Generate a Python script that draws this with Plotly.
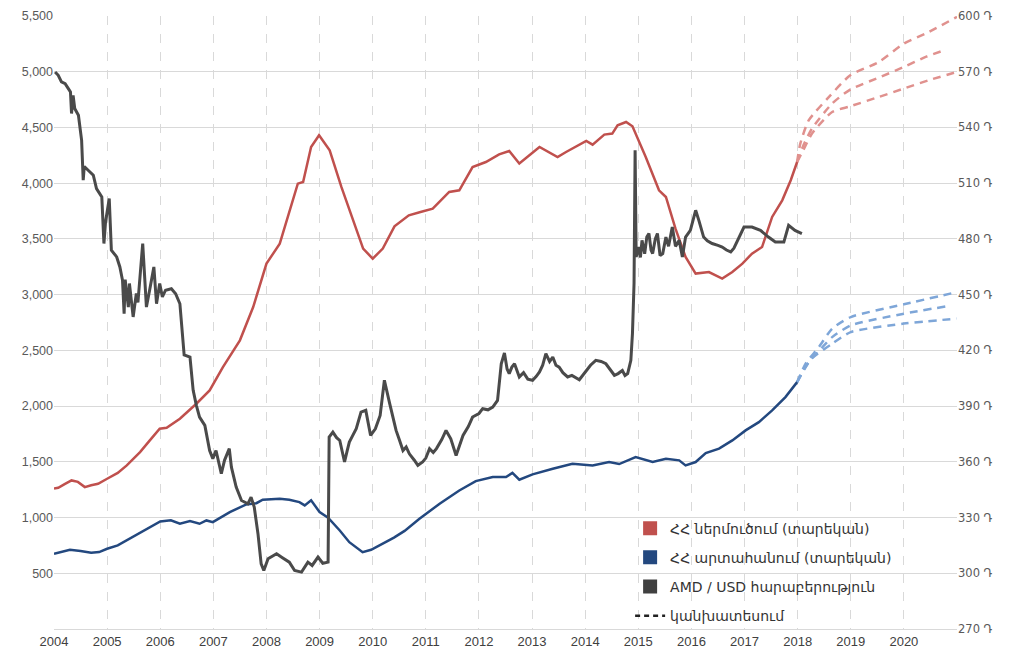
import plotly.graph_objects as go

# ---------------- data ----------------
imp_x = [2004.0, 2004.08, 2004.2, 2004.33, 2004.45, 2004.58, 2004.7, 2004.83, 2005.0, 2005.2, 2005.37, 2005.62,
         2005.8, 2005.99, 2006.12, 2006.37, 2006.68, 2006.93, 2007.18, 2007.5, 2007.75, 2008.0, 2008.25, 2008.5,
         2008.59, 2008.69, 2008.84, 2008.99, 2009.19, 2009.41, 2009.6, 2009.82, 2010.0, 2010.19, 2010.41, 2010.68,
         2010.9, 2011.13, 2011.44, 2011.63, 2011.88, 2012.13, 2012.38, 2012.57, 2012.76, 2013.14, 2013.48, 2013.64,
         2014.02, 2014.14, 2014.36, 2014.51, 2014.61, 2014.77, 2014.89, 2015.14, 2015.39, 2015.52, 2015.7, 2015.89,
         2016.08, 2016.33, 2016.58, 2016.77, 2016.96, 2017.14, 2017.33, 2017.52, 2017.71, 2017.87, 2017.99]
imp_y = [1260, 1267, 1300, 1333, 1320, 1273, 1290, 1303, 1348, 1400, 1468, 1587,
         1690, 1797, 1806, 1887, 2021, 2141, 2350, 2590, 2889, 3278, 3458, 3846,
         3996, 4011, 4325, 4430, 4295, 3966, 3712, 3413, 3323, 3413, 3613, 3712,
         3742, 3772, 3921, 3936, 4145, 4190, 4259, 4289, 4176, 4325, 4235, 4280,
         4379, 4346, 4436, 4445, 4520, 4549, 4511, 4235, 3936, 3876, 3592, 3338,
         3189, 3203, 3144, 3203, 3278, 3368, 3427, 3697, 3846, 4026, 4190]

exp_x = [2004.0, 2004.15, 2004.3, 2004.5, 2004.7, 2004.85, 2005.0, 2005.2, 2005.5, 2005.75, 2006.0, 2006.2,
         2006.37, 2006.56, 2006.74, 2006.87, 2006.99, 2007.31, 2007.62, 2007.81, 2007.93, 2008.25, 2008.43,
         2008.62, 2008.72, 2008.84, 2009.0, 2009.16, 2009.38, 2009.56, 2009.81, 2009.97, 2010.13, 2010.4,
         2010.6, 2010.88, 2011.26, 2011.63, 2011.94, 2012.26, 2012.51, 2012.63, 2012.76, 2013.01, 2013.39,
         2013.76, 2014.14, 2014.45, 2014.64, 2014.95, 2015.27, 2015.52, 2015.77, 2015.89, 2016.08, 2016.27,
         2016.52, 2016.77, 2017.02, 2017.27, 2017.52, 2017.77, 2017.99]
exp_y = [675, 690, 710, 700, 685, 690, 720, 750, 830, 900, 965, 975,
         944, 968, 944, 974, 959, 1049, 1118, 1129, 1160, 1169, 1160,
         1138, 1109, 1154, 1049, 998, 884, 779, 689, 711, 750, 820,
         880, 989, 1124, 1243, 1327, 1363, 1363, 1400, 1339, 1387, 1438,
         1483, 1468, 1498, 1480, 1542, 1498, 1528, 1513, 1468, 1498, 1578,
         1618, 1692, 1782, 1856, 1961, 2081, 2215]

fx_x = [2004.02, 2004.08, 2004.14, 2004.21, 2004.27, 2004.31, 2004.33, 2004.36, 2004.39, 2004.46, 2004.52,
        2004.55, 2004.57, 2004.65, 2004.74, 2004.8, 2004.9, 2004.94, 2004.97, 2005.04, 2005.08, 2005.18,
        2005.24, 2005.29, 2005.32, 2005.34, 2005.4, 2005.42, 2005.49, 2005.55, 2005.58, 2005.67, 2005.74,
        2005.8, 2005.88, 2005.93, 2005.99, 2006.04, 2006.1, 2006.21, 2006.29, 2006.37, 2006.43, 2006.45,
        2006.56, 2006.62, 2006.68, 2006.74, 2006.84, 2006.93, 2006.99, 2007.05, 2007.15, 2007.21, 2007.3,
        2007.34, 2007.43, 2007.53, 2007.65, 2007.71, 2007.77, 2007.84, 2007.9, 2007.95, 2008.03, 2008.19,
        2008.3, 2008.43, 2008.53, 2008.66, 2008.78, 2008.86, 2008.97, 2009.06, 2009.16, 2009.18, 2009.25,
        2009.32, 2009.38, 2009.47, 2009.52, 2009.56, 2009.62, 2009.69, 2009.78, 2009.87, 2009.96, 2010.05,
        2010.14, 2010.22, 2010.32, 2010.44, 2010.5, 2010.57, 2010.63, 2010.69, 2010.78, 2010.85, 2010.94,
        2011.0, 2011.07, 2011.14, 2011.2, 2011.3, 2011.38, 2011.47, 2011.57, 2011.63, 2011.7, 2011.8, 2011.88,
        2012.0, 2012.07, 2012.17, 2012.26, 2012.35, 2012.42, 2012.48, 2012.53, 2012.57, 2012.62, 2012.67,
        2012.76, 2012.84, 2012.92, 2013.01, 2013.08, 2013.14, 2013.2, 2013.26, 2013.33, 2013.39, 2013.45,
        2013.51, 2013.58, 2013.67, 2013.75, 2013.89, 2014.01, 2014.1, 2014.2, 2014.3, 2014.39, 2014.47,
        2014.55, 2014.62, 2014.7, 2014.75, 2014.8, 2014.86, 2014.89, 2014.92, 2014.94, 2014.96, 2015.01,
        2015.04, 2015.07, 2015.12, 2015.16, 2015.2, 2015.24, 2015.27, 2015.32, 2015.36, 2015.41, 2015.46,
        2015.52, 2015.57, 2015.64, 2015.7, 2015.77, 2015.83, 2015.89, 2015.98, 2016.08, 2016.14, 2016.23,
        2016.3, 2016.39, 2016.5, 2016.58, 2016.66, 2016.74, 2016.8, 2016.87, 2016.93, 2016.99, 2017.14,
        2017.3, 2017.45, 2017.58, 2017.74, 2017.83, 2017.95, 2018.08]
fx_y = [569.9, 568.1, 564.5, 563.6, 560.9, 559.1, 547.5, 557.3, 550.2, 546.6, 533.1,
        511.6, 519.0, 517.0, 514.3, 507.1, 502.6, 477.5, 489.0, 501.7, 473.9, 470.3,
        464.9, 457.7, 439.7, 458.1, 443.3, 456.0, 438.0, 450.6, 445.8, 477.5, 443.3,
        452.4, 464.9, 445.1, 456.0, 448.8, 452.4, 453.2, 450.5, 445.1, 421.8, 417.6,
        416.4, 398.5, 390.4, 384.1, 379.6, 366.1, 361.7, 366.1, 353.6, 360.8, 367.1,
        357.1, 346.4, 339.2, 337.4, 341.0, 335.6, 321.3, 305.1, 301.5, 307.8, 310.5,
        308.4, 306.0, 301.5, 300.6, 306.0, 304.2, 308.7, 305.4, 306.0, 373.3, 376.0,
        373.0, 371.5, 359.9, 366.0, 370.6, 374.0, 377.8, 386.8, 387.7, 374.2, 377.8,
        385.0, 403.9, 391.3, 376.9, 372.0, 366.1, 368.0, 364.3, 361.0, 358.1, 359.9,
        362.0, 367.1, 365.0, 367.1, 372.0, 376.9, 372.4, 363.4, 368.0, 374.2, 379.0, 384.1,
        386.0, 388.6, 388.0, 389.5, 393.1, 412.8, 418.6, 410.0, 407.5, 411.0, 412.8,
        405.7, 408.0, 404.5, 403.9, 406.0, 408.4, 412.0, 418.2, 414.0, 416.4, 412.0,
        411.0, 408.0, 405.7, 406.5, 404.2, 408.4, 412.0, 414.6, 414.0, 412.8, 410.0,
        406.6, 407.5, 409.2, 406.5, 407.5, 414.6, 429.0, 456.0, 527.7, 470.3, 475.6,
        470.0, 479.2, 472.0, 481.0, 482.9, 474.0, 472.1, 480.0, 482.9, 471.0, 472.1,
        481.0, 476.0, 486.4, 476.0, 479.2, 470.3, 481.0, 484.6, 495.4, 490.0, 481.0,
        479.0, 477.5, 476.5, 475.6, 474.0, 473.0, 475.0, 479.2, 483.0, 486.4, 486.4,
        484.6, 481.0, 478.3, 478.3, 487.3, 484.6, 482.9]

# forecasts (millions USD, left axis)
imp_fc_hi_x = [2017.99, 2018.05, 2018.21, 2018.59, 2018.99, 2019.53, 2020.0, 2020.47, 2021.0]
imp_fc_hi_y = [4190, 4355, 4565, 4774, 4968, 5088, 5253, 5357, 5492]
imp_fc_mid_x = [2017.99, 2018.1, 2018.27, 2018.65, 2018.99, 2019.53, 2020.0, 2020.41, 2020.8]
imp_fc_mid_y = [4190, 4330, 4490, 4715, 4840, 4948, 5043, 5133, 5199]
imp_fc_lo_x = [2017.99, 2018.11, 2018.27, 2018.65, 2018.99, 2019.53, 2020.0, 2020.47, 2021.0]
imp_fc_lo_y = [4190, 4300, 4445, 4639, 4690, 4774, 4849, 4924, 4998]

exp_fc_hi_x = [2017.99, 2018.15, 2018.4, 2018.65, 2019.0, 2020.0, 2021.0]
exp_fc_hi_y = [2215, 2381, 2530, 2695, 2799, 2913, 3023]
exp_fc_mid_x = [2017.99, 2018.2, 2018.45, 2018.65, 2019.0, 2020.0, 2020.8]
exp_fc_mid_y = [2215, 2390, 2520, 2619, 2724, 2829, 2895]
exp_fc_lo_x = [2017.99, 2018.25, 2018.65, 2019.0, 2020.0, 2021.0]
exp_fc_lo_y = [2215, 2420, 2560, 2664, 2740, 2785]

year_ticks = list(range(2004, 2021))
left_ticks = list(range(500, 5501, 500))
right_ticks = list(range(270, 601, 30))

legend_names = ["ՀՀ ներմուծում (տարեկան)", "ՀՀ արտահանում (տարեկան)",
                "AMD / USD հարաբերություն", "կանխատեսում"]

# ---------------- styles ----------------
RED = "#C0504D"
BLUE = "#23487F"
GRAY = "#4A4A4A"
RED_FC = "#E0918E"
BLUE_FC = "#7EA6D8"
GRID = "#D9D9D9"

fig = go.Figure()

for xs, ys in [(imp_fc_hi_x, imp_fc_hi_y), (imp_fc_mid_x, imp_fc_mid_y), (imp_fc_lo_x, imp_fc_lo_y)]:
    fig.add_trace(go.Scatter(x=xs, y=ys, mode="lines", showlegend=False, hoverinfo="skip",
                             line=dict(color=RED_FC, width=2.5, dash="8px,6px", shape="spline", smoothing=0.6)))
for xs, ys in [(exp_fc_hi_x, exp_fc_hi_y), (exp_fc_mid_x, exp_fc_mid_y), (exp_fc_lo_x, exp_fc_lo_y)]:
    fig.add_trace(go.Scatter(x=xs, y=ys, mode="lines", showlegend=False, hoverinfo="skip",
                             line=dict(color=BLUE_FC, width=2.5, dash="8px,6px", shape="spline", smoothing=0.6)))

fig.add_trace(go.Scatter(x=imp_x, y=imp_y, mode="lines", showlegend=False,
                         line=dict(color=RED, width=2.5)))
fig.add_trace(go.Scatter(x=exp_x, y=exp_y, mode="lines", showlegend=False,
                         line=dict(color=BLUE, width=2.5)))
fig.add_trace(go.Scatter(x=fx_x, y=fx_y, mode="lines", showlegend=False, yaxis="y2",
                         line=dict(color=GRAY, width=3)))

# legend-only entries
for i, (name, col) in enumerate(zip(legend_names[:3], [RED, BLUE, "#404040"])):
    fig.add_trace(go.Scatter(x=[None], y=[None], mode="markers", name=name, legendgroup=f"g{i}",
                             marker=dict(symbol="square", size=14, color=col)))
fig.add_trace(go.Scatter(x=[None], y=[None], mode="lines", name=legend_names[3], legendgroup="g3",
                         line=dict(color="#222222", width=2.5, dash="5px,4px")))

# The page body has an 8px default margin, so the figure is sized to fit the window.
fig.update_layout(
    width=1006, height=648,
    margin=dict(l=46, r=57, t=8, b=27, autoexpand=False),
    paper_bgcolor="white", plot_bgcolor="white",
    font=dict(family="Liberation Sans, Arial, sans-serif", color="#595959", size=12),
    xaxis=dict(range=[2004, 2021], tickvals=year_ticks, ticktext=[str(y) for y in year_ticks],
               showgrid=True, gridcolor=GRID, griddash="dash", gridwidth=1, automargin=False,
               showline=True, linecolor=GRID, zeroline=False, ticks="",
               tickfont=dict(family="Liberation Sans Narrow, Arial Narrow, sans-serif", size=13, color="#404040")),
    yaxis=dict(range=[0, 5500], tickvals=left_ticks, ticktext=[f"{v:,}" for v in left_ticks],
               showgrid=True, gridcolor=GRID, gridwidth=1, zeroline=False, ticks="", automargin=False,
               tickfont=dict(size=12.5, color="#595959")),
    yaxis2=dict(range=[270, 600], overlaying="y", side="right", tickvals=right_ticks, automargin=False,
                ticktext=[f"{v} Դ" for v in right_ticks], showgrid=False, zeroline=False, ticks="",
                tickfont=dict(family="DejaVu Sans, sans-serif", size=11.5, color="#595959")),
    legend=dict(x=0.638, y=0.19, xanchor="left", yanchor="top", bgcolor="rgba(0,0,0,0)",
                traceorder="grouped", tracegroupgap=8, itemwidth=30,
                font=dict(family="DejaVu Sans, Noto Sans, sans-serif", size=14, color="#333333")),
)

fig.write_html("out.html")
